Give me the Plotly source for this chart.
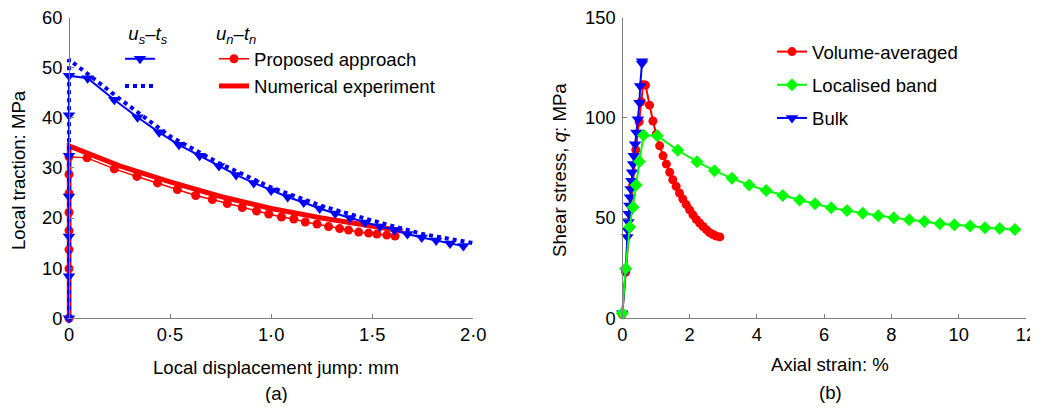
import plotly.graph_objects as go

# ---- panel (a): local traction vs local displacement jump ----
us_prop_x = [0, 0, 0, 0, 0, 0, 0, 0.092, 0.224, 0.339, 0.446, 0.544, 0.646, 0.742,
             0.827, 0.914, 1.0, 1.082, 1.161, 1.24, 1.317, 1.391, 1.465, 1.539,
             1.609, 1.674, 1.745, 1.816, 1.885, 1.951]
us_prop_y = [0, 8.4, 16.3, 24.3, 32.4, 40.5, 48.4, 47.9, 43.6, 40.1, 37.1, 34.6, 32.4,
             30.4, 28.6, 27.0, 25.5, 24.2, 23.1, 21.9, 20.9, 20.0, 19.1, 18.3, 17.6,
             16.8, 16.1, 15.5, 14.9, 14.4]

us_num_x = [0, 0, 0.1, 0.25, 0.5, 0.75, 1.0, 1.25, 1.5, 1.75, 2.0]
us_num_y = [0, 51.6, 48.5, 43.8, 36.3, 30.8, 26.1, 22.4, 19.5, 16.8, 15.0]

un_prop_x = [0, 0, 0, 0, 0, 0, 0, 0, 0.089, 0.224, 0.336, 0.438, 0.536, 0.627, 0.709,
             0.783, 0.857, 0.928, 0.988, 1.051, 1.112, 1.169, 1.227, 1.284, 1.339,
             1.383, 1.433, 1.482, 1.523, 1.572, 1.613]
un_prop_y = [0, 9.9, 13.7, 17.5, 21.1, 24.9, 28.7, 32.2, 32.0, 29.8, 28.3, 27.0, 25.7,
             24.5, 23.7, 22.9, 22.1, 21.4, 20.8, 20.2, 19.8, 19.2, 18.8, 18.3, 17.9,
             17.6, 17.2, 17.0, 16.8, 16.6, 16.4]

un_num_x = [0, 0, 0.25, 0.5, 0.75, 1.0, 1.25, 1.5, 1.65]
un_num_y = [0, 34.4, 30.4, 27.2, 24.3, 21.9, 20.0, 18.4, 17.4]

xa_ticks = [0, 0.5, 1.0, 1.5, 2.0]
xa_text = ["0", "0·5", "1·0", "1·5", "2·0"]

# ---- panel (b): shear stress vs axial strain ----
vol_x = [0, 0.1, 0.2, 0.3, 0.4, 0.5, 0.56, 0.62, 0.69, 0.81, 0.91, 1.01, 1.11, 1.21,
         1.31, 1.41, 1.5, 1.6, 1.7, 1.8, 1.9, 2.0, 2.1, 2.2, 2.3, 2.4, 2.5, 2.59,
         2.69, 2.79, 2.9]
vol_y = [2, 23, 45, 66, 84, 98, 108, 116.5, 116.3, 106.3, 98.4, 91.8, 86.0, 81.0,
         76.9, 72.8, 69.1, 65.8, 62.5, 59.5, 56.7, 54.1, 51.6, 49.3, 47.5, 45.8,
         44.2, 42.8, 41.8, 41.0, 40.6]

band_x = [0, 0.1, 0.22, 0.32, 0.41, 0.51, 0.63, 1.04, 1.65, 2.22, 2.74, 3.26, 3.77,
          4.28, 4.77, 5.27, 5.73, 6.21, 6.68, 7.15, 7.61, 8.07, 8.53, 8.98, 9.44,
          9.87, 10.34, 10.78, 11.22, 11.67]
band_y = [2.5, 24.8, 45.5, 55.4, 66.5, 78.2, 91.3, 91.0, 83.8, 78.1, 73.6, 69.8, 66.5,
          63.7, 61.2, 59.0, 57.1, 55.1, 53.7, 52.4, 51.1, 50.1, 49.1, 48.3, 47.1,
          46.6, 46.0, 45.1, 44.8, 44.3]

bulk_x = [0, 0.1, 0.15, 0.17, 0.18, 0.19, 0.21, 0.23, 0.25, 0.27, 0.29, 0.32, 0.34,
          0.38, 0.42, 0.465, 0.51, 0.53, 0.585, 0.59]
bulk_y = [2.5, 23.6, 40.5, 43.8, 48.0, 52.1, 56.2, 60.4, 64.5, 68.6, 72.8, 76.9, 81.0,
          86.8, 92.6, 99.2, 107.5, 115.8, 127.0, 128.2]

BLUE, RED, GREEN = "#0000ff", "#ff0000", "#00ff00"
AXIS = "#808080"
FONT = "Arial, Liberation Sans, sans-serif"
FS = 18.6
# the page body has an 8 px margin: keep the figure inside the window
OFF = 8
W, H = 1038 - OFF, 411 - 2 * OFF

fig = go.Figure()

# panel (a) traces: red below blue
fig.add_trace(go.Scatter(
    x=un_num_x, y=un_num_y, mode="lines", name="Numerical experiment",
    line=dict(color=RED, width=5), legend="legend2", legendrank=2,
    xaxis="x", yaxis="y"))
fig.add_trace(go.Scatter(
    x=un_prop_x, y=un_prop_y, mode="lines+markers", name="Proposed approach",
    line=dict(color=RED, width=1.5), marker=dict(symbol="circle", size=9, color=RED),
    legend="legend2", legendrank=1, cliponaxis=False, xaxis="x", yaxis="y"))
fig.add_trace(go.Scatter(
    x=us_num_x, y=us_num_y, mode="lines", name=" ",
    line=dict(color=BLUE, width=4, dash="dot"), legend="legend", legendrank=2,
    xaxis="x", yaxis="y"))
fig.add_trace(go.Scatter(
    x=us_prop_x, y=us_prop_y, mode="lines+markers", name="  ",
    line=dict(color=BLUE, width=2), marker=dict(symbol="triangle-down", size=11, color=BLUE),
    legend="legend", legendrank=1, cliponaxis=False, xaxis="x", yaxis="y"))

# panel (b) traces
fig.add_trace(go.Scatter(
    x=vol_x, y=vol_y, mode="lines+markers", name="Volume-averaged",
    line=dict(color=RED, width=2), marker=dict(symbol="circle", size=9, color=RED),
    legend="legend3", legendrank=1, legendgroup="v", cliponaxis=False,
    xaxis="x2", yaxis="y2"))
fig.add_trace(go.Scatter(
    x=bulk_x, y=bulk_y, mode="lines+markers", name="Bulk",
    line=dict(color=BLUE, width=2), marker=dict(symbol="triangle-down", size=11, color=BLUE),
    legend="legend3", legendrank=3, legendgroup="b", cliponaxis=False,
    xaxis="x2", yaxis="y2"))
fig.add_trace(go.Scatter(
    x=band_x, y=band_y, mode="lines+markers", name="Localised band",
    line=dict(color=GREEN, width=2), marker=dict(symbol="diamond", size=10, color=GREEN),
    legend="legend3", legendrank=2, legendgroup="l", cliponaxis=False,
    xaxis="x2", yaxis="y2"))


# window pixel -> paper fraction
def px_x(p):
    return (p - OFF) / W


def px_y(p):
    return 1 - (p - OFF) / H


ax_common = dict(
    showline=True, linecolor=AXIS, linewidth=1, ticks="inside", ticklen=4,
    tickcolor=AXIS, showgrid=False, zeroline=False, automargin=False,
    ticklabeloverflow="allow",
    tickfont=dict(family=FONT, size=18.3, color="black"),
)

# panel (a): x=0 at 69 px, 2.0 at 473.3 px
sa = (473.3 - 69) / 2.0
xa0 = -0.012
fig.update_layout(
    xaxis=dict(domain=[px_x(69 + xa0 * sa), px_x(473.3)], range=[xa0, 2.0],
               tickvals=xa_ticks, ticktext=xa_text, anchor="y", **ax_common),
    yaxis=dict(domain=[px_y(318.3), px_y(17.5)], range=[0, 60], dtick=10,
               anchor="free", position=px_x(69), ticklabelstandoff=3, **ax_common),
)

# panel (b): x=0 at 622.3 px, 12 at 1026 px
sb = (1026 - 622.3) / 12
xb0 = -0.07
fig.update_layout(
    xaxis2=dict(domain=[px_x(622.3 + xb0 * sb), px_x(1026)], range=[xb0, 12],
                dtick=2, tick0=0, anchor="y2", **ax_common),
    yaxis2=dict(domain=[px_y(318.3), px_y(17.5)], range=[0, 150], dtick=50,
                anchor="free", position=px_x(622.3), ticklabelstandoff=3, **ax_common),
)

leg_font = dict(family=FONT, size=FS, color="black")
fig.update_layout(
    legend=dict(x=px_x(120), y=px_y(16), xanchor="left", yanchor="top",
                bgcolor="rgba(0,0,0,0)", font=leg_font,
                title=dict(text="<i>u</i><sub><i>s</i></sub>–<i>t</i><sub><i>s</i></sub>",
                           font=leg_font, side="top center")),
    legend2=dict(x=px_x(214), y=px_y(16), xanchor="left", yanchor="top",
                 bgcolor="rgba(0,0,0,0)", font=leg_font,
                 title=dict(text="<i>u</i><sub><i>n</i></sub>–<i>t</i><sub><i>n</i></sub>",
                            font=leg_font, side="top")),
    legend3=dict(x=px_x(772), y=px_y(33), xanchor="left", yanchor="top",
                 bgcolor="rgba(0,0,0,0)", font=leg_font, tracegroupgap=6),
)

ann_font = dict(family=FONT, size=FS, color="black")
labels = [
    ("Local displacement jump: mm", 276, 367, 0),
    ("Local traction: MPa", 18, 170, -90),
    ("(a)", 276, 393, 0),
    ("Axial strain: %", 830, 364, 0),
    ("Shear stress, <i>q</i>: MPa", 559, 170, -90),
    ("(b)", 830, 392, 0),
]
for text, ax, ay, rot in labels:
    fig.add_annotation(text=text, x=px_x(ax), y=px_y(ay), xref="paper", yref="paper",
                       xanchor="center", yanchor="middle", showarrow=False,
                       textangle=rot, font=ann_font)

fig.update_layout(
    width=W, height=H, margin=dict(l=0, r=0, t=0, b=0, autoexpand=False),
    paper_bgcolor="white", plot_bgcolor="white",
    font=dict(family=FONT, size=FS, color="black"),
)

fig.write_html("out.html")
